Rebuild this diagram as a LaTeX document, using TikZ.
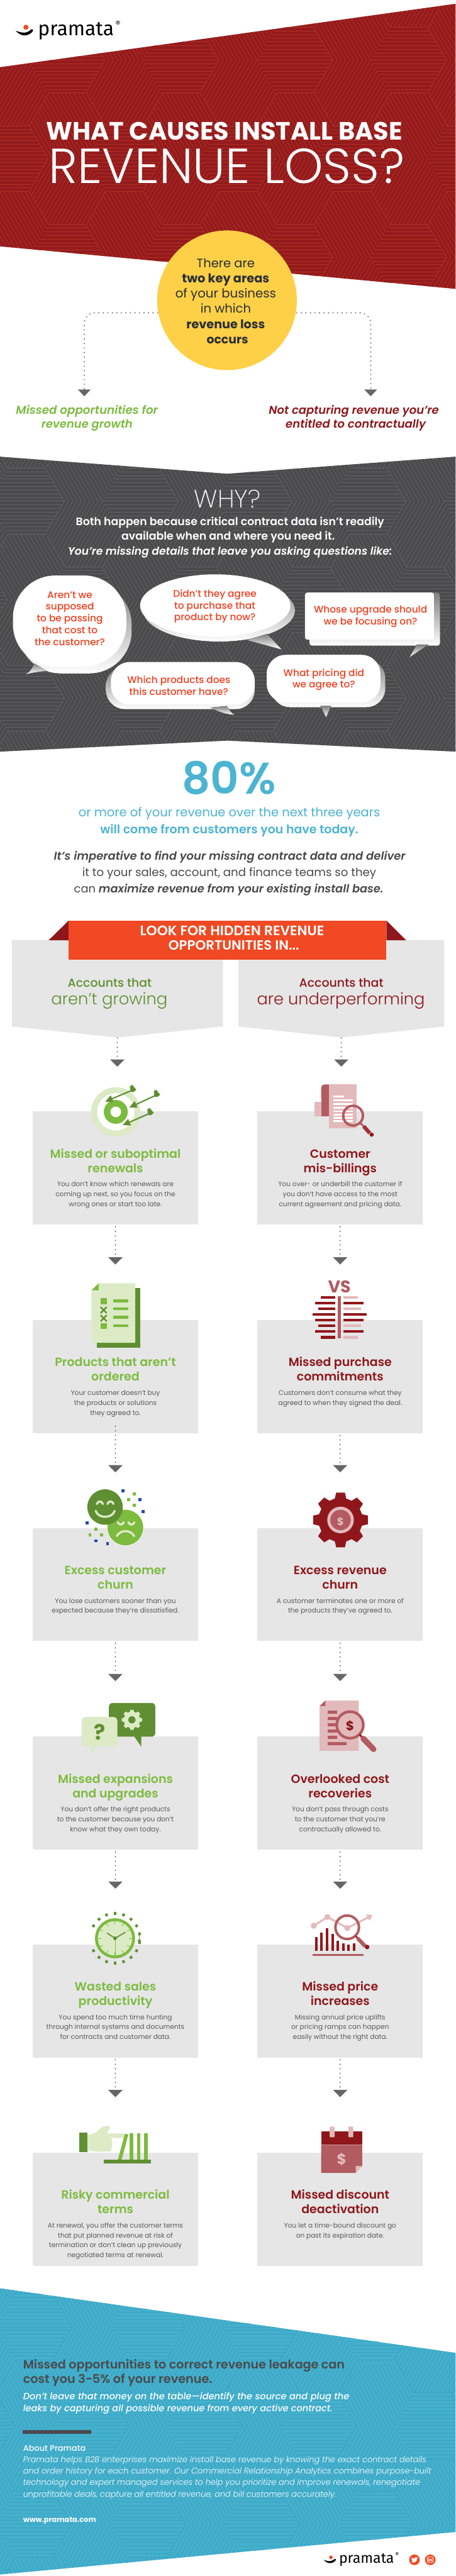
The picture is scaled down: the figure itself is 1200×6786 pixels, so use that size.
\documentclass[tikz,border=0pt]{standalone}
\usepackage{fontspec}
\usetikzlibrary{calc,arrows.meta}
\setmainfont{Poppins}
\newfontfamily\PX{Poppins ExtraLight}[ItalicFont={Poppins ExtraLight Italic}]
\newfontfamily\PL{Poppins Light}[ItalicFont={Poppins Light Italic}]
\newfontfamily\PR{Poppins}[ItalicFont={Poppins Italic}]
\newfontfamily\PM{Poppins Medium}[ItalicFont={Poppins Medium Italic}]
\newfontfamily\PS{Poppins SemiBold}[ItalicFont={Poppins SemiBold Italic}]
\newfontfamily\PB{Poppins Bold}[ItalicFont={Poppins Bold Italic}]
\newfontfamily\LG{Fira Sans}
\definecolor{redband}{HTML}{931B1E}
\definecolor{redline}{HTML}{B4301F}
\definecolor{grayband}{HTML}{4B4B4D}
\definecolor{grayline}{HTML}{626264}
\definecolor{blueband}{HTML}{44B0CD}
\definecolor{blueline}{HTML}{3AA1BE}
\definecolor{hubyellow}{HTML}{FDD047}
\definecolor{navy}{HTML}{2B2E35}
\definecolor{gr}{HTML}{7DBB3F}
\definecolor{grd}{HTML}{5F8F32}
\definecolor{grl}{HTML}{DCEBC5}
\definecolor{rd}{HTML}{8F171B}
\definecolor{rdm}{HTML}{B25B60}
\definecolor{pk}{HTML}{E2BABC}
\definecolor{orng}{HTML}{F04923}
\definecolor{bubred}{HTML}{F03E1E}
\definecolor{shade}{HTML}{DCDCDC}
\definecolor{cardgray}{HTML}{E6E6E6}
\definecolor{body}{HTML}{58595B}
\definecolor{dk}{HTML}{4A4A4C}
\definecolor{sky}{HTML}{4BB4D2}
\definecolor{arrowgray}{HTML}{666666}
\definecolor{bluesq}{HTML}{1F4EA8}
\tikzset{
  linetext/.style={inner sep=0pt,outer sep=0pt},
  card/.style={fill=cardgray,minimum width=436pt,minimum height=298pt,inner sep=0pt,outer sep=0pt},
  flow/.style={draw=arrowgray,line width=3.6pt,line cap=round,dash pattern=on 0pt off 11.9pt,
    -{Triangle[width=37pt,length=19pt,fill=arrowgray]}},
  flowwide/.style={flow,rounded corners=28pt,-{Triangle[width=33pt,length=18pt,fill=arrowgray]}},
}
\newcommand\calcsize[4]{%
  \setbox0\hbox{\pgfinterruptpicture#2\fontsize{20}{24}\selectfont #3\endpgfinterruptpicture}%
  \pgfmathsetmacro#1{#4/\the\wd0*20}}
\newcommand\fitline[8][base]{%
  \setbox0\hbox{\pgfinterruptpicture#5\fontsize{20}{24}\selectfont #8\endpgfinterruptpicture}%
  \pgfmathsetmacro\fsz{#6/\the\wd0*20}%
  \node[linetext,anchor=#1,text=#7,font={#5\fontsize{\fsz}{\fsz}\selectfont}] (#2) at (#3,#4) {#8};}
\newcommand\stripefield[6]{% ox oy ylo yhi colour width
  \foreach \mm in {-8,...,10}{\foreach \nn in {-8,...,10}{%
    \pgfmathsetmacro\hx{#1+150*\mm}%
    \pgfmathsetmacro\hy{#2+86.6*\mm+173.2*\nn}%
    \pgfmathtruncatemacro\okk{and(and(\hx>-110,\hx<1310),and(\hy>#3-90,\hy<#4+90))}%
    \ifnum\okk=1
      \pgfmathtruncatemacro\dd{mod(\mm+2*\nn+300,3)}%
      \foreach \kk in {-9,...,9}{%
        \draw[#5,line width=#6,shift={(\hx,\hy)},rotate=\dd*60]
          ({-(100-50*abs(\kk)/9)},{86.6*\kk/9}) -- ({100-50*abs(\kk)/9},{86.6*\kk/9});}%
    \fi}}}
\newcommand\gearfill[4]{%
  \fill[#4,shift={(#1,#2)}] (-99:#3) \foreach \i in {0,...,7}{
    -- ({\i*45-99}:#3) -- ({\i*45-81}:#3) -- ({\i*45-75}:{#3*.8}) -- ({\i*45-60}:{#3*.8})} -- cycle;}
\newcommand\logomark[3]{% x y scale
  \begin{scope}[shift={(#1,#2)},scale=#3]
    \fill[orng] (0,0) circle (6.7pt);
    \fill[black] (-27.3,9) .. controls (-18,13) and (-8,15) .. (-1.6,14)
      .. controls (5,13) and (11,9) .. (15,5) .. controls (17,5) and (19,7) .. (19,9)
      .. controls (14,18) and (3,22) .. (-5,21.6) .. controls (-14,21) and (-22,15) .. (-27.3,9) -- cycle;
  \end{scope}}
\newcommand\cardat[3]{\node[card,anchor=north] (#1) at (#2,#3) {};}
\newcommand\cb[4]{\node[linetext,anchor=base,text=body,font=\PR\fontsize{\bodysize}{\bodysize}\selectfont] (#1) at (#2,#3) {#4};}
\newcommand\ct[5]{\node[linetext,anchor=base,text=#4,font=\PS\fontsize{\titlesize}{\titlesize}\selectfont] (#1) at (#2,#3) {#5};}
\newcommand\bt[4]{\node[linetext,anchor=base,text=bubred,font=\PM\fontsize{\bubsize}{\bubsize}\selectfont] (#1) at (#2,#3) {#4};}
\newcommand\sq[3]{\fill[#3] (#1-4,#2-4) rectangle (#1+4,#2+4);}
\begin{document}
\begin{tikzpicture}[x=1pt,y=-1pt]
\useasboundingbox (0,0) rectangle (1200,6786);
\fill[white] (0,0) rectangle (1200,6786);
\calcsize{\bodysize}{\PR}{You don’t know which renewals are}{307}
\calcsize{\titlesize}{\PS}{Missed or suboptimal}{344}
\calcsize{\bubsize}{\PM}{the customer?}{185}
% ---------- red band
\fill[redband] (0,177) -- (1200,10) -- (1200,761) -- (0,649) -- cycle;
\begin{scope}
  \clip (0,177) -- (1200,10) -- (1200,761) -- (0,649) -- cycle;
  \stripefield{477}{158.4}{0}{770}{redline}{1.4pt}
\end{scope}
\logomark{68.3}{71.7}{1}
\fitline[base west]{logotop}{100}{93.3}{\LG}{200}{black}{pramata}
\fitline{logotopreg}{310.7}{70}{\LG}{13}{black}{®}
\fitline{title1}{591}{368}{\PB}{938}{white}{WHAT CAUSES INSTALL BASE}
\fitline{title2}{597}{483}{\PL}{938}{white}{REVENUE LOSS?}
% ---------- hub
\node[circle,fill=hubyellow,minimum size=368pt,inner sep=0pt,outer sep=0pt] (hub) at (598,791) {};
\fitline{hub1}{594.6}{705}{\PR}{153}{navy}{There are}
\fitline{hub2}{594.6}{745}{\PB}{230}{navy}{two key areas}
\fitline{hub3}{594.6}{785}{\PR}{265.5}{navy}{of your business}
\fitline{hub4}{594.6}{825}{\PR}{133}{navy}{in which}
\fitline{hub5}{594.6}{865}{\PB}{207}{navy}{revenue loss}
\fitline{hub6}{599}{905}{\PB}{109.5}{navy}{occurs}
\fitline{lab1a}{229}{1091}{\PS\itshape}{374}{gr}{Missed opportunities for}
\fitline{lab1b}{229}{1127}{\PS\itshape}{240}{gr}{revenue growth}
\fitline{lab2a}{932}{1091}{\PS\itshape}{448}{rd}{Not capturing revenue you’re}
\fitline{lab2b}{937}{1127}{\PS\itshape}{369}{rd}{entitled to contractually}
\draw[flowwide] ($(hub.center)+(-183,33)$) -| ($(lab1a.base)+(-7,-47)$);
\draw[flowwide] ($(hub.center)+(184,33)$) -| ($(lab2a.base)+(44.5,-47)$);
% ---------- gray band
\fill[grayband] (0,1203) -- (599,1248) -- (1200,1203) -- (1200,1980) -- (599,1951) -- (0,1980) -- cycle;
\begin{scope}
  \clip (0,1203) -- (599,1248) -- (1200,1203) -- (1200,1980) -- (599,1951) -- (0,1980) -- cycle;
  \stripefield{370}{1320}{1200}{1985}{grayline}{1.4pt}
\end{scope}
\fitline{why}{599}{1337}{\PX}{175}{white}{WHY?}
\fitline{why1}{606}{1384}{\PS}{812}{white}{Both happen because critical contract data isn’t readily}
\fitline{why2}{601}{1423}{\PS}{562}{white}{available when and where you need it.}
\fitline{why3}{606}{1462}{\PS\itshape}{854}{white}{You’re missing details that leave you asking questions like:}
% bubbles
\fill[shade,rounded corners=112pt] (48,1534) rectangle (347,1774);
\fill[shade] (67,1776) .. controls (78,1772) and (84,1762) .. (90,1748) -- (125,1768) .. controls (105,1768) and (88,1772) .. (67,1776) -- cycle;
\fill[white,rounded corners=112pt] (34,1516) rectangle (333,1756);
\bt{b1a}{184}{1576}{Aren’t we}
\bt{b1b}{184}{1607}{supposed}
\bt{b1c}{184}{1638}{to be passing}
\bt{b1d}{184}{1669.5}{that cost to}
\bt{b1e}{184}{1701}{the customer?}
\fill[shade] (577,1608) ellipse [x radius=200pt,y radius=82pt];
\fill[shade] (742,1711) -- (704,1670) -- (650,1686) -- cycle;
\fill[white] (567,1595) ellipse [x radius=198pt,y radius=82pt];
\bt{b2a}{566}{1572.6}{Didn’t they agree}
\bt{b2b}{566}{1604}{to purchase that}
\bt{b2c}{566}{1635}{product by now?}
\fill[shade,rounded corners=7pt] (815,1561) rectangle (1159,1701);
\fill[shade] (1079,1731) -- (1098,1698) -- (1129,1698) -- cycle;
\fill[white,rounded corners=6pt] (803.5,1561) rectangle (1143,1685);
\bt{b3a}{976}{1615}{Whose upgrade should}
\bt{b3b}{976}{1646.5}{we be focusing on?}
\fill[shade,rounded corners=50pt] (279,1756) rectangle (671,1868);
\fill[shade] (618,1883) .. controls (610,1880) and (605,1870) .. (597,1860) -- (555,1864) .. controls (575,1875) and (595,1882) .. (618,1883) -- cycle;
\fill[white,rounded corners=50pt] (292,1744) rectangle (671,1856);
\bt{b4a}{471}{1800}{Which products does}
\bt{b4b}{471}{1831}{this customer have?}
\fill[shade,rounded corners=50pt] (714,1737) rectangle (1015,1863);
\fill[shade] (859,1889.5) -- (844,1860) -- (872,1860) -- cycle;
\fill[white,rounded corners=50pt] (702.5,1725) rectangle (1002,1851);
\bt{b5a}{853}{1781}{What pricing did}
\bt{b5b}{853}{1812}{we agree to?}
% ---------- 80 percent
\fitline{pct}{603.5}{2092}{\PS}{247}{sky}{80\%}
\fitline{pct1}{604}{2152}{\PR}{794}{sky}{or more of your revenue over the next three years}
\fitline{pct2}{604}{2196}{\PS}{680}{sky}{will come from customers you have today.}
\fitline{imp1}{605}{2266}{\PS\itshape}{926}{dk}{It’s imperative to find your missing contract data and deliver}
\fitline{imp2}{604}{2309}{\PR}{774}{dk}{it to your sales, account, and finance teams so they}
\fitline{imp3}{602.5}{2352.5}{\PR}{815}{dk}{can {\PS\itshape maximize revenue from your existing install base.}}
% ---------- panels and banner
\fill[cardgray] (31,2476) -- (587,2476) -- (587,2704) -- (309,2733) -- (31,2704) -- cycle;
\fill[cardgray] (628,2476) -- (1170,2476) -- (1170,2704) -- (899,2733) -- (628,2704) -- cycle;
\fill[rd] (181,2425) -- (181,2477) -- (128,2477) -- cycle;
\fill[rd] (1018,2425) -- (1018,2477) -- (1070,2477) -- cycle;
\node[fill=orng,minimum width=837pt,minimum height=103pt,inner sep=0pt,outer sep=0pt] (banner) at (599.5,2476.5) {};
\fitline{ban1}{611.5}{2465}{\PS}{485}{white}{LOOK FOR HIDDEN REVENUE}
\fitline{ban2}{616}{2503}{\PS}{344}{white}{OPPORTUNITIES IN...}
\fitline{pl1}{289}{2600.6}{\PM}{221}{grd}{Accounts that}
\fitline{pl2}{288}{2647}{\PL}{306.6}{grd}{aren’t growing}
\fitline{pr1}{899}{2600.6}{\PM}{222}{rd}{Accounts that}
\fitline{pr2}{898}{2647}{\PL}{442}{rd}{are underperforming}
\coordinate (panelL) at (309,2733);
\coordinate (panelR) at (899,2733);
% ---------- cards
\cardat{c1L}{304}{2928} \cardat{c1R}{896}{2928}
\cardat{c2L}{304}{3477.5} \cardat{c2R}{896}{3477.5}
\cardat{c3L}{304}{4025} \cardat{c3R}{896}{4025}
\cardat{c4L}{304}{4575} \cardat{c4R}{896}{4575}
\cardat{c5L}{304}{5122} \cardat{c5R}{896}{5122}
\cardat{c6L}{304}{5671} \cardat{c6R}{896}{5671}
% connectors
\draw[flow] ($(panelL)+(0,2)$) -- ($(c1L.north)+(5,-118)$);
\draw[flow] ($(panelR)+(0,2)$) -- ($(c1R.north)+(3,-118)$);
\foreach \aa/\bb in {c1L/c2L,c1R/c2R,c2R/c3R,c3L/c4L,c3R/c4R,c4L/c5L,c4R/c5R,c5L/c6L,c5R/c6R}{
  \draw[flow] ($(\aa.south)+(0,6)$) -- ($(\bb.north)+(0,-146.5)$);}
\draw[flow] ($(c2L.south)+(0,-18.5)$) -- ($(c3L.north)+(0,-146.5)$);
% card texts - left
\ct{t1La}{304}{3050.5}{gr}{Missed or suboptimal}
\ct{t1Lb}{304}{3088.5}{gr}{renewals}
\cb{b1La}{304}{3126}{You don’t know which renewals are}
\cb{b1Lb}{304}{3152}{coming up next, so you focus on the}
\cb{b1Lc}{304}{3178}{wrong ones or start too late.}
\ct{t2La}{304}{3600}{gr}{Products that aren’t}
\ct{t2Lb}{304}{3638}{gr}{ordered}
\cb{b2La}{304}{3675.6}{Your customer doesn’t buy}
\cb{b2Lb}{304}{3701.6}{the products or solutions}
\cb{b2Lc}{304}{3727.7}{they agreed to.}
\ct{t3La}{304}{4147.5}{gr}{Excess customer}
\ct{t3Lb}{304}{4185.5}{gr}{churn}
\cb{b3La}{304}{4223}{You lose customers sooner than you}
\cb{b3Lb}{304}{4249}{expected because they’re dissatisfied.}
\ct{t4La}{304}{4697.5}{gr}{Missed expansions}
\ct{t4Lb}{304}{4735.5}{gr}{and upgrades}
\cb{b4La}{304}{4773}{You don’t offer the right products}
\cb{b4Lb}{304}{4799}{to the customer because you don’t}
\cb{b4Lc}{304}{4825}{know what they own today.}
\ct{t5La}{304}{5244.5}{gr}{Wasted sales}
\ct{t5Lb}{304}{5282.5}{gr}{productivity}
\cb{b5La}{304}{5320}{You spend too much time hunting}
\cb{b5Lb}{304}{5346}{through internal systems and documents}
\cb{b5Lc}{304}{5372}{for contracts and customer data.}
\ct{t6La}{304}{5793.5}{gr}{Risky commercial}
\ct{t6Lb}{304}{5831.5}{gr}{terms}
\cb{b6La}{304}{5869}{At renewal, you offer the customer terms}
\cb{b6Lb}{304}{5895}{that put planned revenue at risk of}
\cb{b6Lc}{304}{5921}{termination or don’t clean up previously}
\cb{b6Ld}{304}{5947}{negotiated terms at renewal.}
% card texts - right
\ct{t1Ra}{896}{3050.5}{rd}{Customer}
\ct{t1Rb}{896}{3088.5}{rd}{mis-billings}
\cb{b1Ra}{896}{3126}{You over- or underbill the customer if}
\cb{b1Rb}{896}{3152}{you don’t have access to the most}
\cb{b1Rc}{896}{3178}{current agreement and pricing data.}
\ct{t2Ra}{896}{3600}{rd}{Missed purchase}
\ct{t2Rb}{896}{3638}{rd}{commitments}
\cb{b2Ra}{896}{3675.6}{Customers don’t consume what they}
\cb{b2Rb}{896}{3701.6}{agreed to when they signed the deal.}
\ct{t3Ra}{896}{4147.5}{rd}{Excess revenue}
\ct{t3Rb}{896}{4185.5}{rd}{churn}
\cb{b3Ra}{896}{4223}{A customer terminates one or more of}
\cb{b3Rb}{896}{4249}{the products they’ve agreed to.}
\ct{t4Ra}{896}{4697.5}{rd}{Overlooked cost}
\ct{t4Rb}{896}{4735.5}{rd}{recoveries}
\cb{b4Ra}{896}{4773}{You don’t pass through costs}
\cb{b4Rb}{896}{4799}{to the customer that you’re}
\cb{b4Rc}{896}{4825}{contractually allowed to.}
\ct{t5Ra}{896}{5244.5}{rd}{Missed price}
\ct{t5Rb}{896}{5282.5}{rd}{increases}
\cb{b5Ra}{896}{5320}{Missing annual price uplifts}
\cb{b5Rb}{896}{5346}{or pricing ramps can happen}
\cb{b5Rc}{896}{5372}{easily without the right data.}
\ct{t6Ra}{896}{5793.5}{rd}{Missed discount}
\ct{t6Rb}{896}{5831.5}{rd}{deactivation}
\cb{b6Ra}{896}{5869}{You let a time-bound discount go}
\cb{b6Rb}{896}{5895}{on past its expiration date.}
% ---------- icon: target
\fill[grl] (305,2929) circle (65pt);
\fill[white] (305,2929) circle (49pt);
\fill[gr] (305,2929) circle (31.5pt);
\fill[white] (305,2929) circle (14pt);
\foreach \tx/\ty/\fx/\fy in {277/2902/346/2873, 340.5/2917.6/409/2886, 323/2964/392/2934}{
  \draw[grd,line width=3.5pt,-{Triangle[width=18pt,length=20pt]}] (\fx,\fy) -- (\tx,\ty);
  \fill[grd] (\fx-4,\fy-12) -- (\fx+3,\fy-15) -- (\fx+13,\fy-2) -- (\fx+5,\fy+4) -- (\fx-2,\fy+3) -- cycle;}
% ---------- icon: roll and lens
\fill[pk] (867,2857) rectangle (940,2972);
\fill[pk] (828,2941) -- (828,2903) -- (846,2903) -- (846,2941) -- cycle;
\fill[rdm,rounded corners=8pt] (846,2857) rectangle (880,2900);
\fill[rdm] (846,2870) rectangle (867,2941);
\fill[pk] (867,2857) rectangle (940,2920);
\foreach \yy/\xe in {2886/906,2896/930,2906/930,2916/930,2925/930,2934/930,2943/930,2951/930}{
  \fill[white] (878,\yy) rectangle (\xe,\yy+4.5);}
\draw[rdm,line width=6.5pt] (930,2939) circle (26pt);
\draw[rdm,line width=5pt] (949,2958) -- (958,2967);
\draw[rd!60!rdm,line width=10pt] (958,2967) -- (974,2985);
\fill[rd] (979,2989) circle (5.5pt);
% ---------- icon: checklist
\fill[grd] (255,3392.6) rectangle (370,3549.6);
\fill[grl] (241,3399) -- (260,3380.5) -- (356,3380.5) -- (356,3537.4) -- (241,3537.4) -- cycle;
\fill[gr] (241,3399) -- (260,3380.5) -- (260,3399) -- cycle;
\fill[gr] (265,3420) rectangle (281,3436);
\fill[gr] (265,3485) rectangle (281,3501);
\foreach \yy in {3451,3472.6}{
  \draw[grd,line width=4pt] (265,\yy-8) -- (281,\yy+8) (281,\yy-8) -- (265,\yy+8);}
\foreach \yy in {3427,3448,3470,3492}{\fill[gr] (298.5,\yy-3.5) rectangle (337.5,\yy+3.5);}
% ---------- icon: VS
\fitline{vs}{894}{3405}{\PB}{60}{rdm}{VS}
\fill[rdm] (890,3414) rectangle (898,3526);
\foreach \yy/\xs/\xe/\col in {3417.5/845/943/pk,3432.6/830/958/rd,3447.8/838/950.5/pk,3463/823/966/rd,3477.5/830/958/rd,3492.6/838/950.5/pk,3507.7/830/958/rd,3523/845/943/pk}{
  \fill[rd] (\xs,\yy-3.5) rectangle (883,\yy+3.5);
  \fill[\col] (905,\yy-3.5) rectangle (\xe,\yy+3.5);}
% ---------- icon: faces
\fill[white] (330.3,4024) circle (48pt);
\fill[gr] (330.3,4024) circle (47pt);
\fill[grd] (276.7,3970) circle (46.7pt);
\begin{scope}[draw=grl,line width=5.5pt,line cap=round]
  \draw (255,3962) .. controls (258,3953) and (268,3953) .. (271,3962);
  \draw (283,3962) .. controls (286,3953) and (296,3953) .. (299,3962);
  \draw (252,3980) .. controls (258,4001) and (296,4001) .. (302,3980);
  \draw (310,4010) .. controls (313,4018) and (323,4018) .. (326,4010);
  \draw (338,4010) .. controls (341,4018) and (351,4018) .. (354,4010);
  \draw (307.5,4046.5) .. controls (318,4029) and (343,4029) .. (353.5,4046.5);
\end{scope}
\sq{323.3}{3927.3}{bluesq} \sq{369.3}{3950.7}{bluesq} \sq{377.3}{3981.7}{bluesq}
\sq{229.3}{4012.3}{bluesq} \sq{252.3}{4059}{bluesq} \sq{283.3}{4066.7}{bluesq}
\sq{353.7}{3935}{gr} \sq{338.7}{3950.7}{gr} \sq{353.7}{3966}{gr}
\sq{252.3}{4027.7}{gr} \sq{237}{4043.3}{gr} \sq{267.7}{4043.3}{gr}
% ---------- icon: dollar gear
\gearfill{897}{4004}{73}{rd}
\fill[pk] (897,4004) circle (35pt);
\fill[rdm] (897,4004) circle (27pt);
\fitline{gearusd}{897}{4019}{\PB}{18}{pk}{\$}
% ---------- icon: chat bubbles
\fill[grd,rounded corners=10pt] (287,4486) rectangle (409,4575);
\fill[grd] (350.5,4570) -- (372,4570) -- (372,4601) -- cycle;
\gearfill{347.5}{4530.5}{27}{grl}
\fill[grd] (347.5,4530.5) circle (9.5pt);
\fill[grl,rounded corners=10pt] (215,4523) rectangle (309,4599.5);
\fill[grl] (239,4595) -- (258,4595) -- (239,4622.5) -- cycle;
\fitline{quest}{262}{4583}{\PB}{30}{grd}{?}
% ---------- icon: invoice lens
\fill[pk] (842,4494) -- (857,4480) -- (945,4480) -- (945,4612) -- (842,4612) -- cycle;
\fill[rdm] (842,4494) -- (857,4480) -- (857,4494) -- cycle;
\foreach \yy in {4510.5,4527,4543,4559.5,4576}{\fill[rdm] (863,\yy-4) rectangle (888,\yy+4);}
\fill[rdm] (863,4589) rectangle (913,4597);
\fill[pk] (922,4544) circle (34pt);
\draw[rdm,line width=7pt] (922,4544) circle (35pt);
\draw[rd,line width=5pt] (947,4569) -- (955,4578);
\draw[rdm,line width=15pt,line cap=round] (957,4580) -- (984,4608);
\fitline{lensusd}{922}{4559}{\PB}{22}{rd}{\$}
% ---------- icon: clock
\foreach \an in {0,20,40,60,120,140,160,180,200,220,240,260,280,300,320,340}{
  \fill[grd,shift={(303,5106)},rotate=\an] (-3.5,-69) rectangle (3.5,-62);}
\draw[gr,fill=grl,line width=7.5pt] (303,5106) circle (49pt);
\foreach \an in {0,30,...,330}{
  \draw[gr,line width=1.5pt,shift={(303,5106)},rotate=\an] (0,-45) -- (0,-37);}
\draw[gr,line width=1.2pt] (303,5106) -- (303,5151);
\draw[grd,line width=2.8pt] (281.6,5092) -- (303,5106) -- (330.6,5089.7);
\fill[grd] (303,5106) circle (5pt);
\draw[grd,line width=3pt,-{Triangle[width=10pt,length=9pt]}] (367,5090) -- (367,5119);
% ---------- icon: price chart
\draw[pk,line width=5pt,-{Triangle[width=18pt,length=14pt]}] (826.5,5073) -- (862.5,5050) -- (915,5079) -- (981,5045);
\foreach \dx/\dy in {826.5/5073,862.5/5050,915/5079}{\fill[pk] (\dx,\dy) circle (8pt);}
\foreach \bx/\by in {833/5103,847/5091,861/5079,876/5095,890/5113,904.6/5119,918/5123,933/5119}{
  \fill[rd] (\bx-3,\by) rectangle (\bx+3,5139);}
\fill[rdm] (823,5147) rectangle (957,5153);
\draw[rdm,line width=6.5pt] (914.5,5077) circle (31pt);
\draw[rd,line width=4pt] (937,5100) -- (943,5107);
\draw[rdm,line width=10pt] (942,5106) -- (962,5127);
\fill[rd] (967,5129) circle (6pt);
% ---------- icon: hand and books
\fill[grd] (209,5618.6) rectangle (230,5669);
\fill[grl] (230,5624) .. controls (245,5622) and (255,5618) .. (265,5606) .. controls (272,5600) and (292,5597) .. (290,5606)
  .. controls (286,5612) and (280,5618) .. (284,5620) -- (329,5620) -- (329,5632) -- (292,5632)
  .. controls (298,5640) and (297,5660) .. (290,5667) .. controls (270,5669) and (245,5669) .. (230,5664) -- cycle;
\fill[gr] (329,5621) -- (338,5623) -- (320,5691) -- (310,5691) -- cycle;
\fill[gr] (342,5620) rectangle (352,5691);
\fill[gr] (361,5620) rectangle (370,5691);
\fill[gr] (380,5620) rectangle (389,5691);
\fill[grd] (274,5689.5) rectangle (398,5698.6);
% ---------- icon: calendar
\fill[rd] (846,5615) rectangle (954,5650);
\fill[rdm] (846,5650) -- (954,5650) -- (954,5706) -- (937,5724) -- (846,5724) -- cycle;
\fill[pk] (954,5706) -- (937,5706) -- (937,5724) -- cycle;
\fill[pk,rounded corners=2pt] (868.5,5602) rectangle (881.6,5630);
\fill[pk,rounded corners=2pt] (917.6,5602) rectangle (930.6,5630);
\fitline{calusd}{900}{5702}{\PB}{25}{pk}{\$}
% ---------- footer
\fill[blueband] (0,6028) -- (1200,6198) -- (1200,6670) -- (0,6782) -- cycle;
\begin{scope}
  \clip (0,6028) -- (1200,6198) -- (1200,6670) -- (0,6782) -- cycle;
  \stripefield{690}{6130}{6020}{6790}{blueline}{1.4pt}
\end{scope}
\fitline[base west]{f1}{61}{6239.6}{\PS}{847}{dk}{Missed opportunities to correct revenue leakage can}
\fitline[base west]{f2}{61}{6277.5}{\PS}{498}{dk}{cost you 3-5\% of your revenue.}
\fitline[base west]{f3}{61}{6321}{\PM\itshape}{859}{white}{Don’t leave that money on the table—identify the source and plug the}
\fitline[base west]{f4}{61}{6353}{\PM\itshape}{815}{white}{leaks by capturing all possible revenue from every active contract.}
\fill[dk] (60,6402) rectangle (241,6411);
\fitline[base west]{f5}{61}{6456.7}{\PM}{165}{white}{About Pramata}
\fitline[base west]{f6}{61}{6486.5}{\PL\itshape}{1062}{white}{Pramata helps B2B enterprises maximize install base revenue by knowing the exact contract details}
\fitline[base west]{f7}{61}{6517}{\PL\itshape}{1075}{white}{and order history for each customer. Our Commercial Relationship Analytics combines purpose-built}
\fitline[base west]{f8}{61}{6547}{\PL\itshape}{1046}{white}{technology and expert managed services to help you prioritize and improve renewals, renegotiate}
\fitline[base west]{f9}{61}{6578}{\PL\itshape}{824}{white}{unprofitable deals, capture all entitled revenue, and bill customers accurately.}
\fitline[base west]{f10}{61}{6644}{\PB}{192}{white}{www.pramata.com}
\logomark{871.7}{6736.7}{.71}
\fitline[base west]{logobot}{893}{6752.7}{\LG}{145}{black}{pramata}
\fitline{logobotreg}{1046}{6736}{\LG}{10}{black}{®}
\node[circle,fill=orng,minimum size=28pt,inner sep=0pt] (tw) at (1091.7,6743.3) {};
\fill[white,shift={(tw.center)},scale=.75,shift={(-12,-12)}]
  (24,4.6) -- (21.1,5.4) -- (23.3,2.6) -- (20.2,3.8) .. controls (18,1.5) and (12,1.5) .. (11.7,8.1)
  .. controls (7.7,8) and (4,6.1) .. (1.6,3.2) .. controls (0.5,5.5) and (1.2,8.2) .. (3.2,9.7)
  -- (0.9,9.1) .. controls (1,11.5) and (2.6,13.5) .. (4.9,14) -- (2.7,14.1) .. controls (3.4,16) and (5.2,17.3) .. (7.3,17.5)
  .. controls (5.5,19) and (3,19.8) .. (0,19.5) .. controls (8,24.5) and (21.5,21) .. (21.5,7.2) -- cycle;
\node[circle,fill=orng,minimum size=28pt,inner sep=0pt] (li) at (1133.3,6743.3) {};
\draw[white,line width=1.2pt,rounded corners=2pt] ($(li.center)+(-7.5,-7.5)$) rectangle ($(li.center)+(7.5,7.5)$);
\node[linetext,text=white,font=\PB\fontsize{12}{12}\selectfont] (lin) at (li.center) {in};
\end{tikzpicture}
\end{document}
